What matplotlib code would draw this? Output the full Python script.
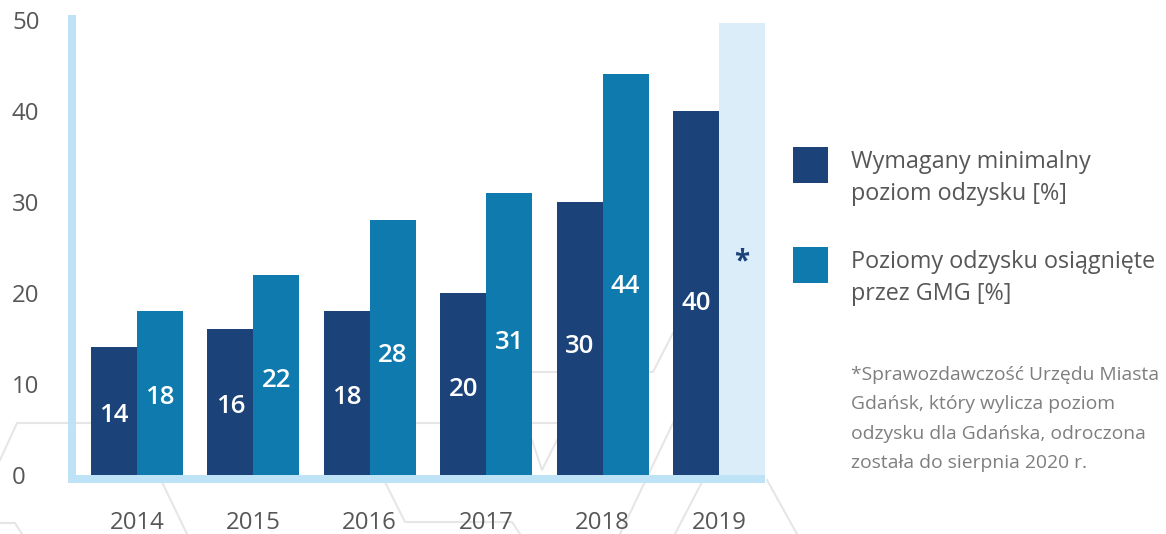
import numpy as np
import matplotlib
matplotlib.use('Agg')
import matplotlib.pyplot as plt
from matplotlib.patches import Rectangle
from matplotlib.lines import Line2D

# ---- data ----
years = ['2014', '2015', '2016', '2017', '2018', '2019']
required = [14, 16, 18, 20, 30, 40]          # Wymagany minimalny poziom odzysku [%]
achieved = [18, 22, 28, 31, 44, np.nan]      # Poziomy odzysku osiągnięte przez GMG [%] (2019 brak)
pending_band = 49.6                          # jasny pas dla 2019 (brak danych)
y_ticks = [0, 10, 20, 30, 40, 50]

legend_labels = ['Wymagany minimalny\npoziom odzysku [%]',
                 'Poziomy odzysku osiągnięte\nprzez GMG [%]']
note = ('*Sprawozdawczość Urzędu Miasta\nGdańsk, który wylicza poziom\n'
        'odzysku dla Gdańska, odroczona\nzostała do sierpnia 2020 r.')

# ---- style ----
DARK = '#1b4379'
MID = '#0e7aae'
PALE = '#dcedfa'
AXIS = '#bee3f6'
GREY_TXT = '#575757'
NOTE_TXT = '#7e7e7e'
DECO = '#e6e6e6'

plt.rcParams['font.family'] = ['Open Sans', 'DejaVu Sans']

W, H = 1166, 534
fig = plt.figure(figsize=(W / 100, H / 100), dpi=100)


def fx(x):
    return x / W


def fy(y):
    return 1 - y / H


# faint background line pattern (decoration only)
deco = [
    [(0, 460), (17, 423), (91, 423)],
    [(160, 478), (187, 534)],
    [(0, 523), (15, 523), (22, 534)],
    [(383, 478), (405, 522), (512, 522), (520, 534)],
    [(415, 423), (558, 423)],
    [(532, 440), (542, 470), (557, 440)],
    [(532, 372), (653, 372), (673, 333)],
    [(620, 534), (673, 423)],
    [(675, 534), (703, 480)],
    [(767, 480), (797, 534)],
]
for pts in deco:
    xs, ys = zip(*pts)
    fig.add_artist(Line2D([fx(v) for v in xs], [fy(v) for v in ys],
                          color=DECO, lw=1.5, zorder=-1))

ax = fig.add_axes([fx(72), fy(475), fx(765) - fx(72), fy(15) - fy(475)])
ax.patch.set_alpha(0)

x = np.arange(len(years))
w = 0.3945
ymax = 50.5

ax.bar(x[-1] + w / 2, pending_band, w, color=PALE, zorder=1)
ax.bar(x - w / 2, required, w, color=DARK, zorder=2)
ax.bar(x + w / 2, achieved, w, color=MID, zorder=2)

for xi, v in zip(x, required):
    ax.text(xi - w / 2, v * 0.47, f'{v}', ha='center', va='center',
            color='white', fontsize=18.5, fontweight='semibold', zorder=3)
for xi, v in zip(x, achieved):
    if np.isnan(v):
        ax.text(xi + w / 2, 23.4, '*', ha='center', va='center',
                color=DARK, fontsize=20, fontweight='bold', zorder=3)
        continue
    ax.text(xi + w / 2, v * 0.47, f'{v:.0f}', ha='center', va='center',
            color='white', fontsize=18.5, fontweight='semibold', zorder=3)

ax.set_xlim(-0.557, x[-1] + w)
ax.set_ylim(0, ymax)

px_per_unit = (475 - 15) / ymax
ax.spines['top'].set_visible(False)
ax.spines['right'].set_visible(False)
for s in ('left', 'bottom'):
    ax.spines[s].set_color(AXIS)
    ax.spines[s].set_linewidth(5.76)
    ax.spines[s].set_capstyle('butt')
ax.spines['bottom'].set_position(('outward', 2.88))
ax.spines['left'].set_bounds(-8 / px_per_unit, ymax)

ax.set_yticks(y_ticks)
ax.tick_params(axis='y', length=0, pad=43.2, labelsize=17.3, labelcolor=GREY_TXT)
for lbl in ax.get_yticklabels():
    lbl.set_horizontalalignment('left')
ax.set_xticks(x, years)
ax.tick_params(axis='x', length=0, pad=23, labelsize=17.3, labelcolor=GREY_TXT)

# legend (drawn by hand to match the layout); va='baseline' pins the last line
for color, label, yc in zip([DARK, MID], legend_labels, [165, 265]):
    fig.add_artist(Rectangle((fx(793), fy(yc + 18)), fx(35), 36 / H,
                             facecolor=color, edgecolor='none'))
    fig.text(fx(851), fy(yc + 35), label, ha='left', va='baseline',
             fontsize=16.8, color=GREY_TXT, linespacing=1.42)

fig.text(fx(851), fy(468), note, ha='left', va='baseline',
         fontsize=13.9, color=NOTE_TXT, linespacing=1.81)

fig.savefig('out.png', dpi=100)
